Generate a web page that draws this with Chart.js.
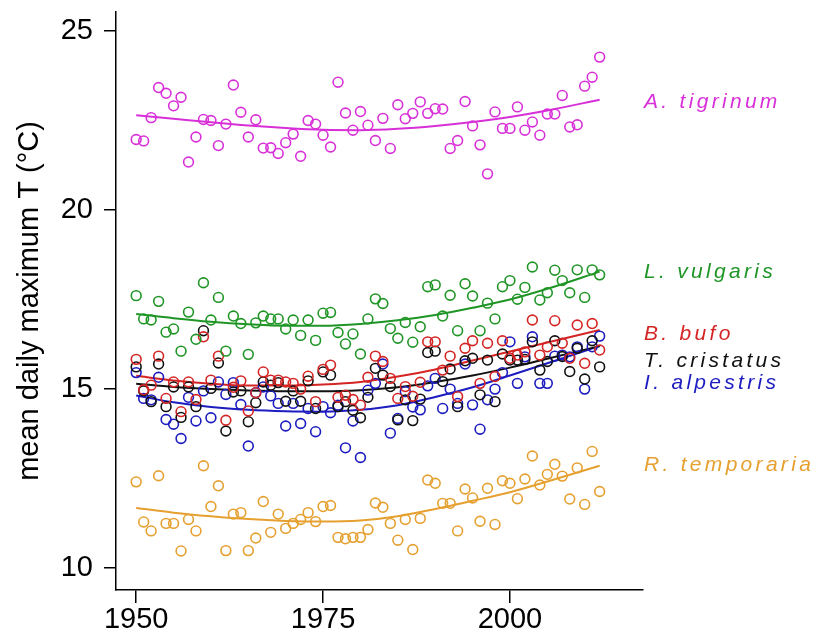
<!DOCTYPE html>
<html>
<head>
<meta charset="utf-8">
<script src="https://cdn.jsdelivr.net/npm/chart.js@4.4.1/dist/chart.umd.min.js"></script>
<style>
  body { margin: 0; background: #fff; }
  canvas { display: block; }
</style>
</head>
<body>
<canvas id="myChart" width="822" height="639"></canvas>
<script>
// years of observation
const years = [1950, 1951, 1952, 1953, 1954, 1955, 1956, 1957, 1958, 1959,
  1960, 1961, 1962, 1963, 1964, 1965, 1966, 1967, 1968, 1969,
  1970, 1971, 1972, 1973, 1974, 1975, 1976, 1977, 1978, 1979,
  1980, 1981, 1982, 1983, 1984, 1985, 1986, 1987, 1988, 1989,
  1990, 1991, 1992, 1993, 1994, 1995, 1996, 1997, 1998, 1999,
  2000, 2001, 2002, 2003, 2004, 2005, 2006, 2007, 2008, 2009,
  2010, 2011, 2012];

// mean daily maximum T for each species
const tigrinum = [21.97, 21.93, 22.58, 23.42, 23.26, 22.91, 23.15, 21.34, 22.04, 22.53,
  22.50, 21.80, 22.40, 23.49, 22.73, 22.04, 22.52, 21.73, 21.74, 21.58,
  21.88, 22.12, 21.50, 22.50, 22.40, 22.09, 21.76, 23.57, 22.71, 22.23,
  22.75, 22.37, 21.94, 22.56, 21.72, 22.94, 22.55, 22.70, 23.02, 22.70,
  22.83, 22.82, 21.72, 21.94, 23.03, 22.35, 21.82, 21.01, 22.74, 22.28,
  22.28, 22.88, 22.23, 22.46, 22.09, 22.68, 22.68, 23.20, 22.32, 22.38,
  23.46, 23.71, 24.27];
const vulgaris = [17.61, 16.96, 16.93, 17.45, 16.59, 16.68, 16.06, 17.15, 16.39, 17.97,
  16.93, 17.56, 16.06, 17.04, 16.83, 15.97, 16.85, 17.04, 16.96, 16.96,
  16.68, 16.93, 16.50, 16.93, 16.36, 17.12, 17.14, 16.58, 16.26, 16.54,
  15.98, 16.96, 17.52, 17.39, 16.69, 16.42, 16.86, 16.31, 16.74, 17.86,
  17.91, 17.04, 17.62, 16.63, 17.94, 17.60, 16.63, 17.40, 16.96, 17.86,
  18.03, 17.51, 17.84, 18.41, 17.49, 17.69, 18.32, 18.03, 17.69, 18.33,
  17.56, 18.33, 18.19];
const bufo = [15.83, 14.98, 15.11, 15.92, 14.74, 15.20, 14.37, 15.20, 14.71, 16.46,
  15.25, 15.92, 14.13, 15.05, 15.23, 14.39, 14.90, 15.48, 15.25, 15.25,
  15.20, 15.16, 15.00, 15.36, 14.65, 15.55, 15.67, 14.77, 14.83, 14.71,
  14.55, 15.33, 15.92, 15.77, 15.30, 14.74, 15.07, 14.80, 15.19, 16.32,
  16.32, 15.53, 15.92, 14.79, 16.14, 16.35, 15.16, 16.28, 15.35, 16.35,
  15.86, 15.95, 16.04, 16.93, 15.95, 16.18, 16.91, 16.28, 15.86, 16.79,
  15.72, 16.83, 16.09];
const cristatus = [15.62, 14.95, 14.65, 15.70, 14.51, 15.06, 14.21, 15.06, 14.51, 16.63,
  15.02, 15.73, 13.83, 14.92, 14.95, 14.09, 14.62, 15.20, 15.11, 15.18,
  14.66, 14.95, 14.66, 15.23, 14.46, 15.48, 15.39, 14.51, 14.65, 14.41,
  14.20, 14.77, 15.58, 15.39, 15.07, 14.14, 14.70, 14.12, 14.72, 16.02,
  16.06, 15.21, 15.56, 14.51, 15.79, 15.86, 14.84, 15.81, 14.65, 15.98,
  15.81, 15.81, 15.83, 16.32, 15.53, 15.77, 16.35, 15.91, 15.49, 16.14,
  15.28, 16.35, 15.62];
const alpestris = [15.46, 14.74, 14.70, 15.33, 14.15, 14.02, 13.62, 14.77, 14.11, 14.95,
  14.20, 15.20, 14.85, 15.18, 14.57, 13.41, 14.90, 15.06, 14.81, 14.60,
  13.97, 14.60, 14.04, 14.46, 13.81, 14.51, 14.34, 14.55, 13.36, 14.11,
  13.09, 14.97, 15.16, 15.70, 13.77, 14.18, 14.93, 14.50, 14.42, 15.09,
  15.30, 14.46, 15.00, 14.60, 15.70, 14.56, 13.88, 14.70, 15.00, 15.46,
  16.32, 15.16, 15.90, 16.46, 15.16, 15.16, 15.92, 15.95, 15.90, 16.18,
  15.00, 16.18, 16.48];
const temporaria = [12.41, 11.29, 11.04, 12.58, 11.25, 11.25, 10.48, 11.36, 11.04, 12.86,
  11.72, 12.30, 10.49, 11.51, 11.55, 10.49, 10.84, 11.86, 11.00, 11.51,
  11.11, 11.25, 11.36, 11.55, 11.30, 11.72, 11.75, 10.86, 10.82, 10.86,
  10.86, 11.08, 11.82, 11.70, 11.25, 10.78, 11.36, 10.52, 11.39, 12.46,
  12.37, 11.81, 11.81, 11.04, 12.21, 11.96, 11.31, 12.23, 11.22, 12.44,
  12.37, 11.94, 12.49, 13.13, 12.32, 12.62, 12.90, 12.57, 11.93, 12.80,
  11.78, 13.26, 12.14];

// fitted trend
const fitYears = [1950, 1955, 1960, 1965, 1970, 1975, 1980, 1985, 1990, 1995, 2000, 2005, 2012];
const fitTigrinum = [22.65, 22.55, 22.45, 22.36, 22.29, 22.24, 22.23, 22.27, 22.35, 22.46, 22.60, 22.78, 23.08];
const fitVulgaris = [17.10, 16.98, 16.88, 16.81, 16.77, 16.77, 16.82, 16.92, 17.07, 17.27, 17.50, 17.80, 18.28];
const fitBufo = [15.37, 15.24, 15.15, 15.10, 15.10, 15.13, 15.20, 15.35, 15.55, 15.80, 16.05, 16.30, 16.65];
const fitCristatus = [15.15, 15.06, 15.00, 14.96, 14.94, 14.94, 14.97, 15.05, 15.20, 15.38, 15.60, 15.85, 16.20];
const fitAlpestris = [14.82, 14.63, 14.50, 14.42, 14.38, 14.37, 14.42, 14.55, 14.78, 15.05, 15.38, 15.72, 16.20];
const fitTemporaria = [11.68, 11.55, 11.45, 11.37, 11.32, 11.30, 11.33, 11.45, 11.65, 11.88, 12.12, 12.42, 12.86];

const species = ['A. tigrinum', 'L. vulgaris', 'B. bufo', 'T. cristatus', 'I. alpestris', 'R. temporaria'];
const xTicks = [1950, 1975, 2000];
const yTicks = [10, 15, 20, 25];

const colors = ['#d830d8', '#1f9526', '#d42424', '#111111', '#1c1cc0', '#e6a030'];
const points = [tigrinum, vulgaris, bufo, cristatus, alpestris, temporaria];
const fits = [fitTigrinum, fitVulgaris, fitBufo, fitCristatus, fitAlpestris, fitTemporaria];
// where each name sits on the right (value on the y axis)
const labelAt = [23.07, 18.32, 16.59, 15.84, 15.20, 12.91];

const datasets = [];
points.forEach((vals, i) => {
  datasets.push({
    label: species[i],
    data: years.map((yr, j) => ({ x: yr, y: vals[j] })),
    showLine: false,
    pointStyle: 'circle',
    pointRadius: 4.9,
    pointBorderWidth: 1.6,
    pointBackgroundColor: 'rgba(0,0,0,0)',
    pointBorderColor: colors[i],
    borderColor: colors[i]
  });
});
fits.forEach((vals, i) => {
  datasets.push({
    label: species[i] + ' fit',
    data: fitYears.map((yr, j) => ({ x: yr, y: vals[j] })),
    showLine: true,
    pointRadius: 0,
    borderColor: colors[i],
    borderWidth: 2,
    cubicInterpolationMode: 'monotone',
    fill: false
  });
});

const speciesNames = {
  id: 'speciesNames',
  afterDraw(chart) {
    const c = chart.ctx;
    const yScale = chart.scales.y;
    c.save();
    c.font = 'italic 21px "Liberation Sans", Arial, sans-serif';
    c.letterSpacing = '3.3px';
    c.textAlign = 'left';
    c.textBaseline = 'alphabetic';
    species.forEach((name, i) => {
      c.fillStyle = colors[i];
      c.fillText(name, chart.chartArea.right + 1, yScale.getPixelForValue(labelAt[i]) + 7.5);
    });
    c.restore();
  }
};

const tickFont = { family: '"Liberation Sans", Arial, sans-serif', size: 29 };

new Chart(document.getElementById('myChart').getContext('2d'), {
  type: 'scatter',
  data: { datasets: datasets },
  options: {
    responsive: false,
    animation: false,
    layout: { padding: { left: 0, right: 179, top: 12, bottom: 0 } },
    plugins: {
      legend: { display: false },
      tooltip: { enabled: false }
    },
    scales: {
      x: {
        type: 'linear',
        min: 1947.3,
        max: 2017.8,
        afterBuildTicks: (scale) => { scale.ticks = xTicks.map(v => ({ value: v })); },
        afterFit: (scale) => { scale.height = 49; scale.paddingLeft = 0; scale.paddingRight = 0; },
        grid: { drawOnChartArea: false, drawTicks: true, tickLength: 13, color: '#000', lineWidth: 1.5 },
        border: { display: true, color: '#000', width: 1.5 },
        ticks: { font: tickFont, color: '#000', padding: 0, maxRotation: 0, callback: (v) => String(v) }
      },
      y: {
        min: 9.39,
        max: 25.53,
        afterBuildTicks: (scale) => { scale.ticks = yTicks.map(v => ({ value: v })); },
        afterFit: (scale) => { scale.width = 116; scale.paddingTop = 0; scale.paddingBottom = 0; },
        grid: { drawOnChartArea: false, drawTicks: true, tickLength: 12, color: '#000', lineWidth: 1.5 },
        border: { display: true, color: '#000', width: 1.5 },
        ticks: { font: tickFont, color: '#000', padding: 11 },
        title: {
          display: true,
          text: 'mean daily maximum T (°C)',
          font: { family: '"Liberation Sans", Arial, sans-serif', size: 29 },
          color: '#000',
          padding: { top: 13, bottom: 0 }
        }
      }
    }
  },
  plugins: [speciesNames]
});
</script>
</body>
</html>
